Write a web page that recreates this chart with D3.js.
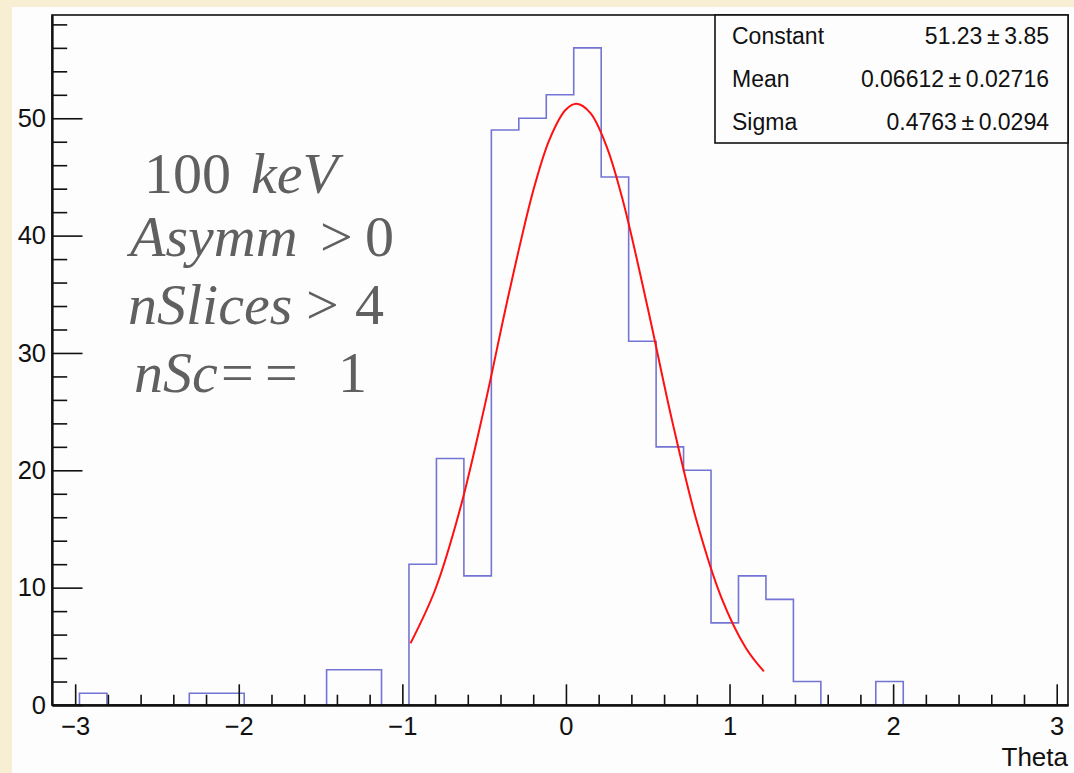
<!DOCTYPE html>
<html>
<head>
<meta charset="utf-8">
<script src="https://cdn.jsdelivr.net/npm/d3@7"></script>
<style>
  body { margin: 0; background: #f8eed4; }
  svg { display: block; }
</style>
</head>
<body>
<svg id="drawing_region"></svg>
<script>
// histogram: 37 equal bins over the whole x range
const binLow = -3.1416;
const binHigh = 3.069;
const counts = [0, 1, 0, 0, 0, 1, 1, 0, 0, 0, 3, 3, 0, 12, 21, 11, 49, 50, 52, 56, 45,
                31, 22, 20, 7, 11, 9, 2, 0, 0, 2, 0, 0, 0, 0, 0, 0];
const yMax = 58.8;

const xTicks = [-3, -2, -1, 0, 1, 2, 3];
const yTicks = [0, 10, 20, 30, 40, 50];

// gaussian fit, points
const fitX = [-0.95, -0.8, -0.65, -0.5, -0.35, -0.2, -0.1, 0.0, 0.066, 0.15, 0.25, 0.35, 0.5, 0.65, 0.8, 0.95, 1.1, 1.21];
const fitY = [5.26, 9.80, 16.55, 25.28, 34.98, 43.83, 48.21, 50.74, 51.23, 50.44, 47.55, 42.89, 33.83, 24.17, 15.63, 9.16, 4.86, 2.86];

const statNames = ["Constant", "Mean", "Sigma"];
const statValues = ["51.23", "0.06612", "0.4763"];
const statErrors = ["3.85", "0.02716", "0.0294"];

const xTitle = "Theta";

class HistPlot {
    constructor(config) {
        this.config = {
            parent: config.parent,
            width: config.width || 256,
            height: config.height || 256,
            margin: config.margin || { top: 10, right: 10, bottom: 10, left: 10 }
        };
        this.init();
    }

    init() {
        let self = this;
        self.svg = d3.select(self.config.parent)
            .attr('width', self.config.width)
            .attr('height', self.config.height);

        // paper + white pad
        self.svg.append('rect')
            .attr('width', self.config.width).attr('height', self.config.height)
            .attr('fill', '#f8eed4');
        self.svg.append('rect')
            .attr('x', 12).attr('y', 7)
            .attr('width', self.config.width - 12).attr('height', self.config.height - 7)
            .attr('fill', '#fdfdfd');

        self.chart = self.svg.append('g')
            .attr('transform', `translate(${self.config.margin.left}, ${self.config.margin.top})`);
        self.inner_width = self.config.width - self.config.margin.left - self.config.margin.right;
        self.inner_height = self.config.height - self.config.margin.top - self.config.margin.bottom;

        self.xscale = d3.scaleLinear()
            .domain([binLow, binHigh])
            .range([0, self.inner_width]);

        self.yscale = d3.scaleLinear()
            .domain([0, yMax])
            .range([self.inner_height, 0]);
    }

    render() {
        let self = this;
        const font = 'Liberation Sans, Arial, Helvetica, sans-serif';

        // histogram outline
        const w = (binHigh - binLow) / counts.length;
        const pts = [[binLow, 0]];
        counts.forEach((c, i) => {
            pts.push([binLow + i * w, c]);
            pts.push([binLow + (i + 1) * w, c]);
        });
        pts.push([binHigh, 0]);

        const line = d3.line()
            .x(d => self.xscale(d[0]))
            .y(d => self.yscale(d[1]));

        self.chart.append('path')
            .attr('d', line(pts))
            .attr('fill', 'none')
            .attr('stroke', '#7474d4')
            .attr('stroke-width', 1.6);

        // fit curve
        const fitLine = d3.line()
            .x((d, i) => self.xscale(fitX[i]))
            .y(d => self.yscale(d))
            .curve(d3.curveCatmullRom);
        self.chart.append('path')
            .attr('d', fitLine(fitY))
            .attr('fill', 'none')
            .attr('stroke', '#ff1010')
            .attr('stroke-width', 2);

        // frame
        self.chart.append('rect')
            .attr('width', self.inner_width)
            .attr('height', self.inner_height)
            .attr('fill', 'none')
            .attr('stroke', '#111')
            .attr('stroke-width', 1.6);

        // minor ticks
        const xMinor = d3.range(-30, 31, 2).map(d => d / 10).filter(d => !xTicks.includes(d));
        const yMinor = d3.range(0, 59, 2).filter(d => d % 10 !== 0);

        const xaxis = d3.axisBottom(self.xscale)
            .tickValues(xTicks)
            .tickSizeInner(-20.7)
            .tickSizeOuter(0)
            .tickPadding(12)
            .tickFormat(d3.format('d'));
        const xaxisMinor = d3.axisBottom(self.xscale)
            .tickValues(xMinor)
            .tickSizeInner(-10.3)
            .tickSizeOuter(0)
            .tickFormat('');

        const yaxis = d3.axisLeft(self.yscale)
            .tickValues(yTicks)
            .tickSizeInner(-30.5)
            .tickSizeOuter(0)
            .tickPadding(6);
        const yaxisMinor = d3.axisLeft(self.yscale)
            .tickValues(yMinor)
            .tickSizeInner(-15.2)
            .tickSizeOuter(0)
            .tickFormat('');

        [xaxis, xaxisMinor].forEach(ax => {
            self.chart.append('g')
                .attr('transform', `translate(0, ${self.inner_height})`)
                .call(ax);
        });
        [yaxis, yaxisMinor].forEach(ax => {
            self.chart.append('g').call(ax);
        });

        self.chart.selectAll('.tick line').attr('stroke', '#111').attr('stroke-width', 1.6);
        self.chart.selectAll('.domain').attr('stroke', '#111').attr('stroke-width', 1.8);
        self.chart.selectAll('.tick text')
            .attr('fill', '#111')
            .attr('font-family', font)
            .attr('font-size', '25.5px');

        self.chart.append('text')
            .attr('x', self.inner_width)
            .attr('y', self.inner_height + 61)
            .attr('text-anchor', 'end')
            .attr('font-family', font)
            .attr('font-size', '26px')
            .attr('fill', '#111')
            .text(xTitle);

        // stats box
        const box = { x: 715 - self.config.margin.left, w: 353, h: 128 };
        const stats = self.chart.append('g').attr('transform', `translate(${box.x}, 0)`);
        stats.append('rect')
            .attr('width', box.w).attr('height', box.h)
            .attr('fill', '#fdfdfd')
            .attr('stroke', '#111')
            .attr('stroke-width', 1.6);
        const rowH = box.h / statNames.length;
        statNames.forEach((name, i) => {
            stats.append('text')
                .attr('x', 17)
                .attr('y', rowH * i + rowH / 2 + 8)
                .attr('font-family', font)
                .attr('font-size', '23px')
                .attr('fill', '#111')
                .text(name);
            stats.append('text')
                .attr('x', box.w - 19)
                .attr('y', rowH * i + rowH / 2 + 8)
                .attr('text-anchor', 'end')
                .attr('font-family', font)
                .attr('font-size', '23px')
                .attr('fill', '#111')
                .text(statValues[i] + '\u2009\u00b1\u2009' + statErrors[i]);
        });
    }
}

const config = {
    parent: '#drawing_region',
    width: 1074,
    height: 773,
    margin: { top: 15, right: 6, bottom: 68, left: 52 }
};
const hist_plot = new HistPlot(config);
hist_plot.render();

// cut labels (TLatex style)
const serif = 'Liberation Serif, Times New Roman, serif';
const notes = [
    { y: 193, parts: [{ t: '100', x: 144 }, { t: 'keV', x: 251, it: true }] },
    { y: 256, parts: [{ t: 'Asymm', x: 130, it: true }, { t: '>', x: 320 }, { t: '0', x: 365 }] },
    { y: 324, parts: [{ t: 'nSlices', x: 128, it: true }, { t: '>', x: 306 }, { t: '4', x: 355 }] },
    { y: 392, parts: [{ t: 'nSc', x: 134, it: true }, { t: '=', x: 221 }, { t: '=', x: 265 }, { t: '1', x: 338 }] }
];
notes.forEach(n => {
    const t = d3.select('#drawing_region').append('text')
        .attr('y', n.y)
        .attr('font-family', serif)
        .attr('font-size', '58px')
        .attr('fill', '#606060');
    n.parts.forEach(p => {
        t.append('tspan')
            .attr('x', p.x)
            .attr('font-style', p.it ? 'italic' : 'normal')
            .text(p.t);
    });
});
</script>
</body>
</html>
